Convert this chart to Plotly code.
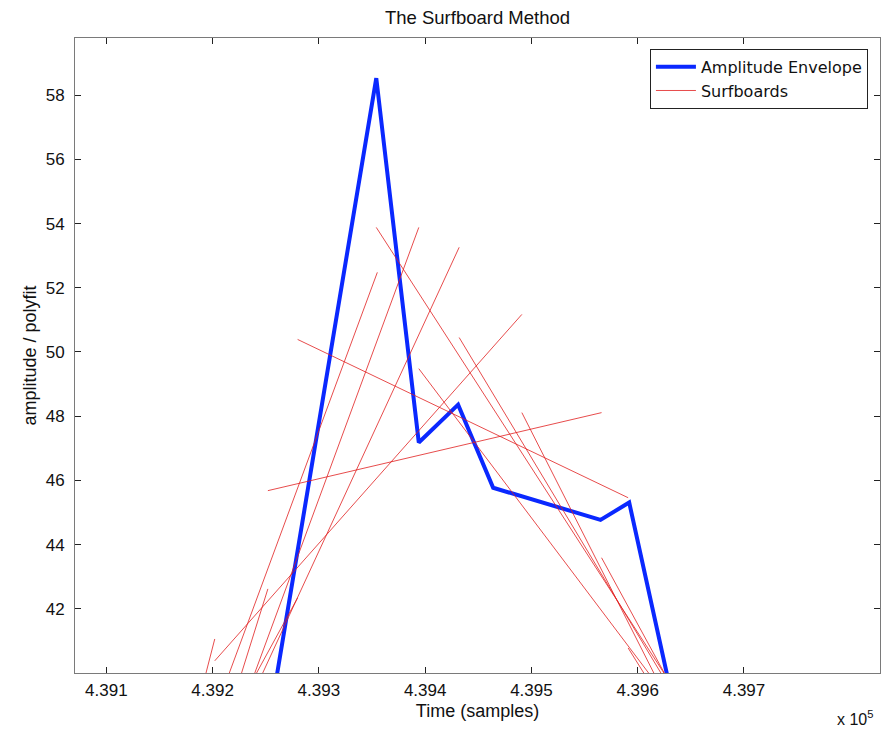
import plotly.graph_objects as go

# ---- data (x in samples, y in amplitude units) ----
env_x = [439258, 439354, 439394, 439431, 439464, 439565, 439592, 439631]
env_y = [39.44, 58.53, 47.18, 48.36, 45.77, 44.77, 45.31, 39.44]

# each surfboard is a straight fitted segment: (x0, y0) -> (x1, y1)
sb_x0 = [439252, 439202, 439235, 439230, 439206, 439187, 439219, 439227,
         439280, 439354, 439394, 439432, 439491, 439591, 439566]
sb_y0 = [45.68, 40.38, 39.13, 39.13, 39.13, 39.13, 39.13, 39.13,
         50.39, 53.88, 49.48, 50.45, 48.11, 40.78, 43.59]
sb_x1 = [439566, 439491, 439432, 439394, 439355, 439202, 439252, 439280,
         439591, 439627, 439613, 439624, 439617, 439608, 439627]
sb_y1 = [48.11, 51.17, 53.26, 53.88, 52.48, 41.06, 42.62, 42.34,
         45.46, 39.88, 39.88, 39.88, 39.88, 39.88, 39.88]

x_tickvals = [439100, 439200, 439300, 439400, 439500, 439600, 439700]
x_ticktext = ["4.391", "4.392", "4.393", "4.394", "4.395", "4.396", "4.397"]
y_tickvals = [42, 44, 46, 48, 50, 52, 54, 56, 58]

# ---- build figure ----
sx, sy = [], []
for a, b, c, d in zip(sb_x0, sb_y0, sb_x1, sb_y1):
    sx += [a, c, None]
    sy += [b, d, None]

FONT = "Liberation Sans, Arial, Helvetica, sans-serif"
LEGFONT = "DejaVu Sans, Liberation Sans, sans-serif"

fig = go.Figure()
fig.add_trace(go.Scatter(x=env_x, y=env_y, mode="lines", name="Amplitude Envelope",
                         line=dict(color="#0a28ff", width=4)))
fig.add_trace(go.Scatter(x=sx, y=sy, mode="lines", name="Surfboards",
                         line=dict(color="rgb(225,30,30)", width=0.8)))

axis_common = dict(showline=True, linecolor="#7a7a7a", linewidth=1, mirror="allticks",
                   ticks="inside", ticklen=6, tickcolor="#222", tickwidth=1,
                   showgrid=False, zeroline=False, automargin=False,
                   tickfont=dict(family=FONT, size=17, color="#111"))

# the page body adds an 8px offset, so the figure is sized to fit the window
W, H = 884, 723
ML, MT, MR, MB = 67, 30, 12, 58

fig.update_layout(
    width=W, height=H,
    margin=dict(l=ML, r=MR, t=MT, b=MB, autoexpand=False),
    paper_bgcolor="white", plot_bgcolor="white",
    font=dict(family=FONT, size=17, color="#111"),
    title=dict(text="The Surfboard Method", x=0.5, xref="paper", xanchor="center",
               y=1 - 10 / H, yref="container", yanchor="middle",
               font=dict(family=FONT, size=18.5, color="#111")),
    xaxis=dict(range=[439070.5, 439828], tickvals=x_tickvals, ticktext=x_ticktext,
               ticklabelstandoff=2,
               title=dict(text="Time (samples)", standoff=4,
                          font=dict(family=FONT, size=18, color="#111")),
               **axis_common),
    yaxis=dict(range=[40, 59.78], tickvals=y_tickvals,
               ticklabelstandoff=6,
               title=dict(text="amplitude / polyfit", standoff=4,
                          font=dict(family=FONT, size=18, color="#111")),
               **axis_common),
    legend=dict(x=0.985, y=0.983, xanchor="right", yanchor="top",
                bgcolor="white", bordercolor="#222", borderwidth=1,
                font=dict(family=LEGFONT, size=16, color="#111"),
                itemwidth=40, tracegroupgap=0),
    showlegend=True,
    annotations=[dict(text="x 10<sup>5</sup>", xref="paper", yref="paper",
                      x=0.994, y=-0.071, xanchor="right", yanchor="middle",
                      showarrow=False, font=dict(family=FONT, size=16, color="#111"))],
)

fig.write_html("out.html")
